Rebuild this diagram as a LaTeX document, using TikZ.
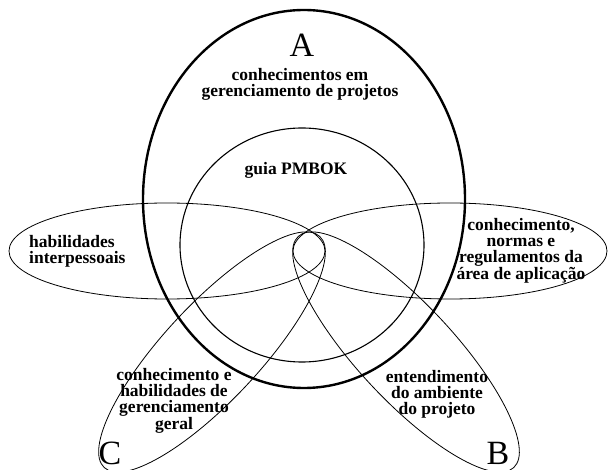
\documentclass[tikz,border=0pt]{standalone}
\usepackage{fontspec}
\setmainfont{Liberation Serif}
\usetikzlibrary{positioning}

\begin{document}
\begin{tikzpicture}[x=1pt, y=-1pt,
    petal/.style={line width=0.8pt},
    txt/.style={font=\bfseries\fontsize{17.5}{16}\selectfont, align=center, inner sep=0pt},
    letter/.style={font=\fontsize{34}{34}\selectfont, inner sep=0pt}]
    \useasboundingbox (0,0) rectangle (608,470);

    % Centres
    \coordinate (cA) at (304,199);
    \coordinate (cP) at (302,245);
    \coordinate (cL) at (167,251);
    \coordinate (cR) at (450,251);
    \coordinate (cB) at (406,352);
    \coordinate (cC) at (212,352);

    % Ellipses
    \draw [line width=2.4pt] (cA) ellipse [x radius=161pt, y radius=189pt];
    \draw [line width=1.1pt] (cP) ellipse [x radius=122pt, y radius=117pt];
    \draw [petal] (cL) ellipse [x radius=158pt, y radius=48pt];
    \draw [petal] (cR) ellipse [x radius=157pt, y radius=48pt];
    \draw [petal, rotate around={-47:(cB)}] (cB) ellipse [x radius=158pt, y radius=48pt];
    \draw [petal, rotate around={47:(cC)}] (cC) ellipse [x radius=158pt, y radius=48pt];

    % Nodes
    \node [letter] (A) at (302,45) {A};
    \node [txt] (know) at (300,84) {conhecimentos em\\gerenciamento de projetos};
    \node [txt] (guide) at (296,170) {guia PMBOK};
    \node [txt, align=left, anchor=west] (soft) at (29,251) {habilidades\\interpessoais};
    \node [txt] (area) at (521,251) {conhecimento,\\normas e\\regulamentos da\\área de aplicação};
    \node [txt] (gen) at (174,401) {conhecimento e\\habilidades de\\gerenciamento\\geral};
    \node [txt] (env) at (437,394) {entendimento\\do ambiente\\do projeto};
    \node [letter] (C) at (110,453) {C};
    \node [letter] (B) at (498,453) {B};
\end{tikzpicture}
\end{document}
